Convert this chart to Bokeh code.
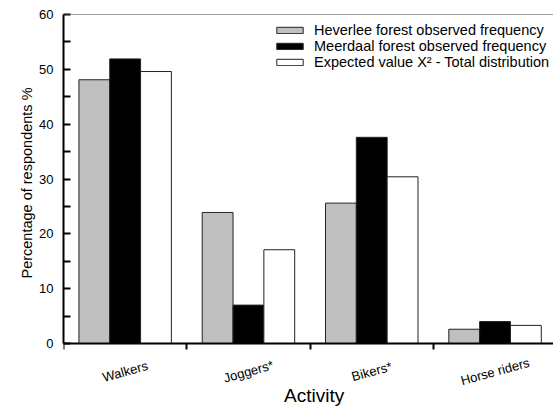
import math
from bokeh.plotting import figure
from bokeh.models import ColumnDataSource, Range1d, FixedTicker, Span, Label
from bokeh.transform import dodge
from bokeh.embed import file_html
from bokeh.resources import INLINE

# ---- data ----
categories = ["Walkers", "Joggers*", "Bikers*", "Horse riders"]
heverlee = [48.1, 23.9, 25.6, 2.6]
meerdaal = [51.9, 7.0, 37.6, 4.0]
expected = [49.6, 17.1, 30.4, 3.3]
series_names = ["Heverlee forest observed frequency",
                "Meerdaal forest observed frequency",
                "Expected value X\u00b2 - Total distribution"]
x_title = "Activity"
y_title = "Percentage of respondents %"
y_ticks = [0, 10, 20, 30, 40, 50, 60]
y_minor = [5, 15, 25, 35, 45, 55]

centers = [i + 0.5 for i in range(len(categories))]
bounds = [float(i) for i in range(len(categories))]

src = ColumnDataSource(dict(x=centers, h=heverlee, m=meerdaal, e=expected,
                            name=categories))

FONT = "Liberation Sans"

# layout: value axis 0..60 spans 329 px; the frame continues below 0 so that
# the category labels (drawn as text glyphs) stay inside it
W, H = 553, 407
TOP, LEFT = 14, 63
PX = 329 / 60.0
y_low = 60 - (H - TOP) / PX

p = figure(width=W, height=H, output_backend="svg", toolbar_location=None,
           x_range=Range1d(0, 3.974), y_range=Range1d(y_low, 60),
           x_axis_location="above",
           min_border_left=LEFT, min_border_right=0, min_border_top=TOP,
           min_border_bottom=0)
p.outline_line_color = None
p.xgrid.grid_line_color = None
p.ygrid.grid_line_color = None
p.background_fill_color = "white"
p.border_fill_color = "white"

bw = 0.25
p.vbar(x=dodge("x", -bw, range=p.x_range), top="h", width=bw, bottom=0, source=src,
       fill_color="#c0c0c0", line_color="#222222", line_width=1,
       legend_label=series_names[0])
p.vbar(x=dodge("x", 0, range=p.x_range), top="m", width=bw, bottom=0, source=src,
       fill_color="#000000", line_color="#222222", line_width=1,
       legend_label=series_names[1])
p.vbar(x=dodge("x", bw, range=p.x_range), top="e", width=bw, bottom=0, source=src,
       fill_color="#ffffff", line_color="#222222", line_width=1,
       legend_label=series_names[2])

p.add_layout(Span(location=60, dimension="width", line_color="#444444", line_width=1))

# category labels, rotated and centred under each group
p.text(x="x", y=-28 / PX, text="name", source=src, angle=0.27,
       text_align="center", text_baseline="middle", text_font={"value": FONT},
       text_font_size="13px", text_color="black")
# x title
p.text(x=[len(categories) / 2], y=[-52 / PX], text=[x_title], x_offset=4,
       text_align="center", text_baseline="middle", text_font={"value": FONT},
       text_font_size="19px", text_color="black")

# x axis: drawn at value 0, ticks at group boundaries pointing down
xa = p.xaxis[0]
xa.fixed_location = 0
xa.ticker = FixedTicker(ticks=centers, minor_ticks=bounds)
xa.major_label_overrides = {c: "" for c in centers}
xa.major_label_text_font_size = "1px"
xa.major_label_standoff = 0
xa.major_tick_in = 0
xa.major_tick_out = 0
xa.minor_tick_in = 6
xa.minor_tick_out = 0
xa.minor_tick_line_width = 2
xa.minor_tick_line_color = "black"
xa.axis_line_width = 2
xa.axis_line_color = "black"

# y axis
ya = p.yaxis[0]
ya.bounds = (0, 60)
ya.ticker = FixedTicker(ticks=y_ticks, minor_ticks=y_minor)
ya.major_tick_in = 7
ya.major_tick_out = 0
ya.minor_tick_in = 7
ya.minor_tick_out = 0
ya.major_tick_line_width = 2
ya.minor_tick_line_width = 2
ya.major_tick_line_color = "black"
ya.minor_tick_line_color = "black"
ya.axis_line_width = 2
ya.axis_line_color = "black"
ya.major_label_standoff = 10
ya.major_label_text_font = FONT
ya.major_label_text_font_size = "13px"
ya.major_label_text_color = "black"

p.add_layout(Label(x=0, y=30, x_offset=-36.5, y_offset=-4, text=y_title,
                   angle=math.pi / 2, text_align="center", text_baseline="middle",
                   text_font=FONT, text_font_size="14.5px", text_color="black"),
             "left")

lg = p.legend[0]
lg.location = (210, 273 + int(round(-y_low * PX)))
lg.border_line_color = None
lg.background_fill_alpha = 0
lg.padding = 0
lg.margin = 0
lg.spacing = 0
lg.glyph_width = 33
lg.glyph_height = 8
lg.label_height = 16
lg.label_standoff = 8
lg.label_text_font = FONT
lg.label_text_font_size = "14.5px"
lg.label_text_color = "black"

open("out.html", "w").write(file_html(p, INLINE))
